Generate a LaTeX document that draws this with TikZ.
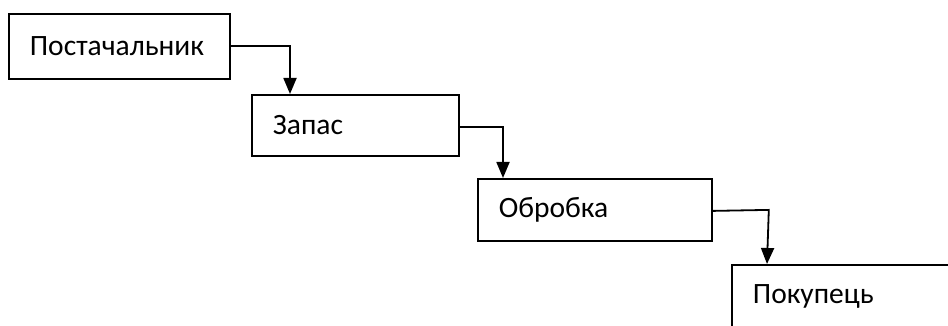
\documentclass[tikz,border=0pt]{standalone}
\usepackage{fontspec}
\setmainfont{Carlito}
\usetikzlibrary{arrows.meta}
\tikzset{
  stage/.style={draw, line width=1.8pt, anchor=north west, rectangle,
    inner xsep=21pt, inner ysep=0pt, align=left,
    font=\fontsize{29.5}{35}\selectfont},
  flow/.style={line width=1.8pt, -{Triangle[width=13pt,length=16pt]}}
}
\begin{document}
\begin{tikzpicture}[x=1pt,y=-1pt]
            \clip (0,0) rectangle (948,326);

            \node[stage, text width=179pt, minimum height=65pt] (supplier) at (8,13) {Постачальник};
            \node[stage, text width=165pt, minimum height=61pt] (stock) at (251,94) {Запас};
            \node[stage, text width=192pt, minimum height=62pt] (process) at (477,178) {Обробка};
            \node[stage, text width=200pt, minimum height=64pt] (buyer) at (731,264) {Покупець};

            \draw[flow] (supplier.east) -| ([xshift=39pt]stock.north west);
            \draw[flow] ([yshift=-2pt]stock.east) -| ([xshift=26pt]process.north west);
            \draw[flow] ([yshift=-1pt]process.east) -- ++(56,-1) coordinate (bend)
                        -- ([xshift=36pt]buyer.north west);
        \end{tikzpicture}
\end{document}
